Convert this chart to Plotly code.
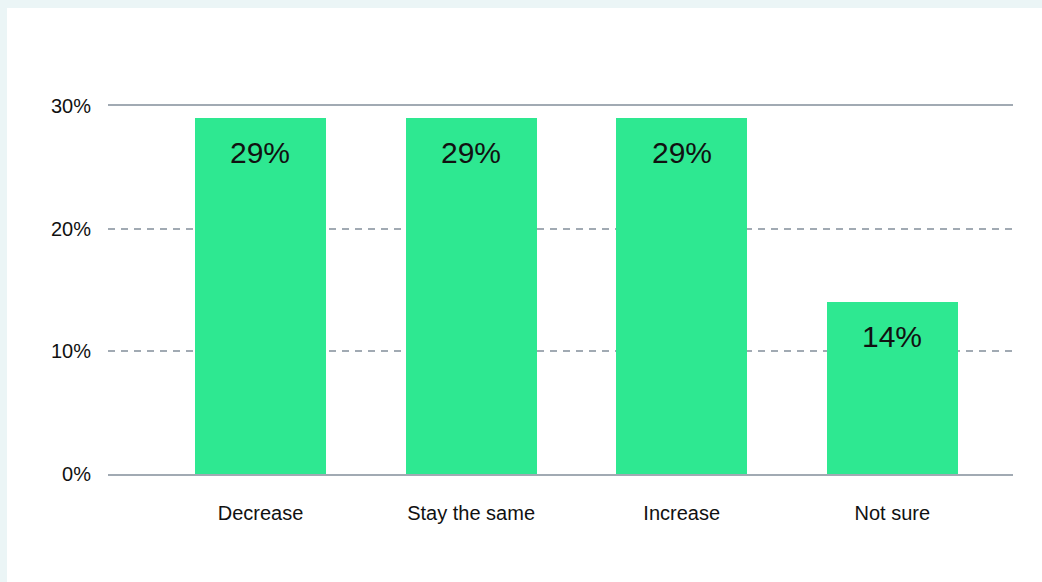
import plotly.graph_objects as go

# Survey answers and their shares (percent)
categories = ["Decrease", "Stay the same", "Increase", "Not sure"]
shares = [29, 29, 29, 14]
y_ticks = [0, 10, 20, 30]
y_tick_labels = [f"{t}%" for t in y_ticks]

BAR_COLOR = "#2ee891"
GRID_COLOR = "#a1aab3"
FONT = "Liberation Sans, Arial, sans-serif"

fig = go.Figure(
    go.Bar(
        x=categories,
        y=shares,
        marker=dict(color=BAR_COLOR, line=dict(width=0)),
        width=0.622,
        hoverinfo="skip",
    )
)

# value labels placed inside the top of each bar
for cat, val in zip(categories, shares):
    fig.add_annotation(
        x=cat, y=val, text=f"{val}%",
        xref="x", yref="y",
        yanchor="top", yshift=-16,
        showarrow=False,
        font=dict(family=FONT, size=30, color="#111111"),
    )

# white card over the tinted page background
fig.add_shape(
    type="rect", xref="paper", yref="paper",
    x0=-0.1116, x1=1.2, y0=-0.5, y1=1.2663,
    fillcolor="white", line=dict(width=0), layer="below",
)

fig.update_layout(
    width=1042, height=582,
    margin=dict(l=108, r=29, t=106, b=108),
    paper_bgcolor="#ebf5f6",
    plot_bgcolor="white",
    showlegend=False,
    bargap=0,
    font=dict(family=FONT, size=20, color="#111111"),
    xaxis=dict(
        type="category",
        range=[-0.724, 3.573],
        showgrid=False,
        showline=True, mirror=True,
        linecolor=GRID_COLOR, linewidth=2,
        ticks="", ticklabelstandoff=20,
        tickfont=dict(family=FONT, size=20, color="#111111"),
        fixedrange=True,
    ),
    yaxis=dict(
        range=[0, 30],
        tickvals=y_ticks, ticktext=y_tick_labels,
        showgrid=True, gridcolor=GRID_COLOR, gridwidth=2,
        griddash="7px,6px",
        zeroline=False, showline=False,
        ticks="", ticklabelstandoff=16,
        tickfont=dict(family=FONT, size=20, color="#111111"),
        fixedrange=True,
    ),
)

fig.write_html("out.html")
